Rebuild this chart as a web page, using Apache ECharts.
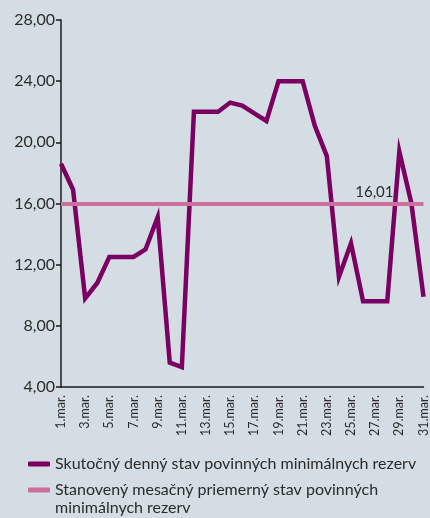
<!DOCTYPE html>
<html>
<head>
<meta charset="utf-8">
<script src="https://cdn.jsdelivr.net/npm/echarts@6/dist/echarts.min.js"></script>
<style>
  html, body { margin: 0; padding: 0; background: #d5dde4; }
  #chart { width: 430px; height: 518px; }
</style>
</head>
<body>
<div id="chart"></div>
<script>
const days = [
  '1.mar.', '2.mar.', '3.mar.', '4.mar.', '5.mar.', '6.mar.', '7.mar.', '8.mar.',
  '9.mar.', '10.mar.', '11.mar.', '12.mar.', '13.mar.', '14.mar.', '15.mar.', '16.mar.',
  '17.mar.', '18.mar.', '19.mar.', '20.mar.', '21.mar.', '22.mar.', '23.mar.', '24.mar.',
  '25.mar.', '26.mar.', '27.mar.', '28.mar.', '29.mar.', '30.mar.', '31.mar.'
]
const dailyLevel = [
  18.6, 16.9, 9.8, 10.8, 12.5, 12.5, 12.5, 13.0,
  15.1, 5.6, 5.3, 22.0, 22.0, 22.0, 22.6, 22.4,
  21.9, 21.4, 24.0, 24.0, 24.0, 21.1, 19.1, 11.2,
  13.4, 9.6, 9.6, 9.6, 19.4, 16.0, 9.9
]
const requiredAvg = 16.01
const yTicks = [4, 8, 12, 16, 20, 24, 28]

const dailyName = 'Skutočný denný stav povinných minimálnych rezerv'
const avgName = 'Stanovený mesačný priemerný stav povinných minimálnych rezerv'
const avgNameLines = ['Stanovený mesačný priemerný stav povinných', 'minimálnych rezerv']

const fmt = v => v.toFixed(2).replace('.', ',')
const textColor = '#2b2b2b'
const font = 'Lato, "Noto Sans", sans-serif'
const legendText = { fontSize: 16, color: textColor, fontFamily: font }

const chart = echarts.init(document.getElementById('chart'))
chart.setOption({
  backgroundColor: '#d5dde4',
  animation: false,
  textStyle: { fontFamily: font },
  grid: { left: 61, right: 2, top: 20, bottom: 131 },
  legend: [
    {
      data: [dailyName],
      left: 28,
      top: 456,
      padding: 0,
      itemWidth: 22,
      itemHeight: 5,
      icon: 'roundRect',
      textStyle: legendText
    },
    {
      data: [avgName],
      left: 28,
      top: 482,
      padding: 0,
      itemWidth: 22,
      itemHeight: 5,
      icon: 'roundRect',
      formatter: () => avgNameLines[0],
      textStyle: legendText
    }
  ],
  graphic: [
    {
      type: 'text',
      left: 55,
      top: 500,
      silent: true,
      style: { text: avgNameLines[1], font: '16px ' + font, fill: textColor }
    }
  ],
  xAxis: {
    type: 'category',
    data: days,
    boundaryGap: false,
    axisLine: { lineStyle: { color: '#1a1a1a', width: 1.5 } },
    axisTick: { show: false },
    axisLabel: {
      rotate: 90,
      interval: 1,
      margin: 8,
      fontSize: 12.5,
      color: textColor,
      fontFamily: font
    }
  },
  yAxis: {
    type: 'value',
    min: yTicks[0],
    max: yTicks[yTicks.length - 1],
    interval: 4,
    axisLine: { show: true, lineStyle: { color: '#1a1a1a', width: 1.5 } },
    axisTick: { show: true, length: 5, lineStyle: { color: '#1a1a1a', width: 1.5 } },
    splitLine: { show: false },
    axisLabel: {
      formatter: v => fmt(v),
      fontSize: 16,
      margin: 6,
      color: textColor,
      fontFamily: font
    }
  },
  series: [
    {
      name: avgName,
      type: 'line',
      data: [],
      z: 2,
      itemStyle: { color: '#cc6f9b' },
      lineStyle: { color: '#cc6f9b', width: 4 },
      markLine: {
        silent: true,
        symbol: 'none',
        lineStyle: { color: '#cc6f9b', width: 4, type: 'solid' },
        label: {
          show: true,
          position: 'insideEndTop',
          distance: [30, 4],
          formatter: () => fmt(requiredAvg),
          fontSize: 15,
          color: textColor,
          fontFamily: font
        },
        data: [{ yAxis: requiredAvg }]
      }
    },
    {
      name: dailyName,
      type: 'line',
      data: dailyLevel,
      z: 3,
      symbol: 'none',
      itemStyle: { color: '#7a0062' },
      lineStyle: { color: '#7a0062', width: 4.5, join: 'miter' }
    }
  ]
})
</script>
</body>
</html>
